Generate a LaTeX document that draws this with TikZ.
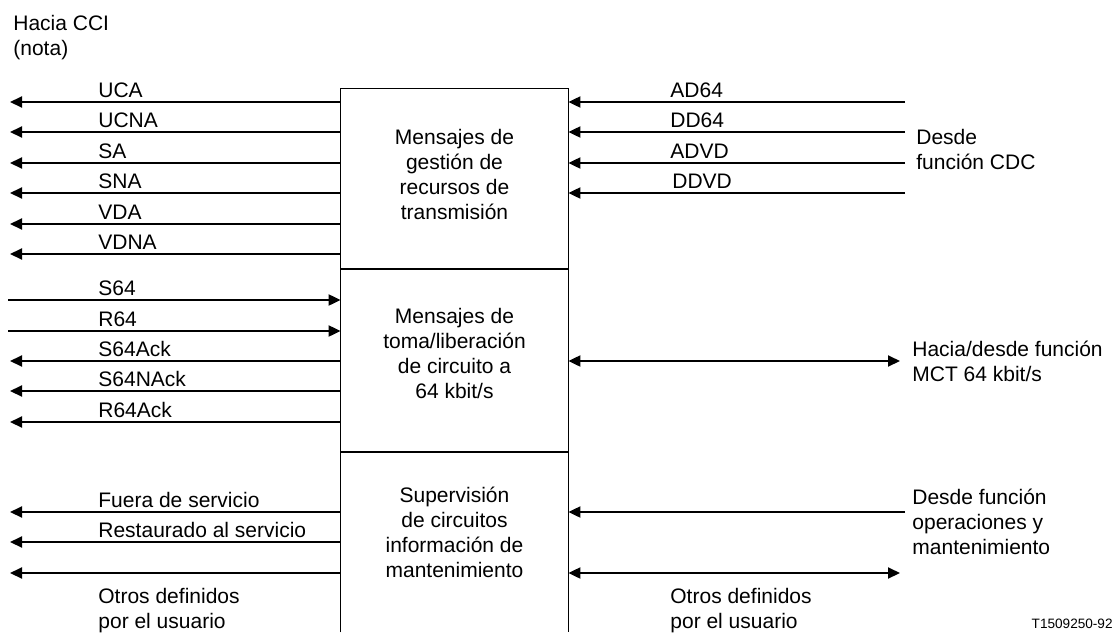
\documentclass[tikz,border=0pt]{standalone}
\usepackage{fontspec}
\setmainfont{Liberation Sans}
\usetikzlibrary{arrows.meta}
\begin{document}
\begin{tikzpicture}[x=0.5pt, y=-0.5pt,
  font=\fontsize{10.5}{12.5}\selectfont,
  sig/.style={line width=1pt, -{Triangle[length=6pt, width=5.5pt]}},
  sigboth/.style={line width=1pt, {Triangle[length=6pt, width=5.5pt]}-{Triangle[length=6pt, width=5.5pt]}},
  lbl/.style={anchor=base west, inner sep=0pt},
  txt/.style={align=left, inner sep=0pt},
  sect/.style={minimum width=113.5pt, inner sep=0pt},
  secttxt/.style={align=center, inner sep=0pt}]
\useasboundingbox (0,0) rectangle (1114,632);
\node[txt, anchor=north west] (cci) at (13,15) {Hacia CCI\\(nota)};
\node[sect, minimum height=90pt] (gest) at (454.5,179) {};
\node[sect, minimum height=91.5pt] (toma) at (454.5,360.5) {};
\node[sect, minimum height=90pt] (sup) at (454.5,542) {};
\node[secttxt] (tgest) at (454.5,174.5) {Mensajes de\\gestión de\\recursos de\\transmisión};
\node[secttxt] (ttoma) at (454.5,353) {Mensajes de\\toma/liberación\\de circuito a\\64 kbit/s};
\node[secttxt] (tsup) at (454.5,532) {Supervisión\\de circuitos\\información de\\mantenimiento};
\draw[line width=0.5pt] (sup.south west) -- (gest.north west) -- (gest.north east) -- (sup.south east);
\draw[line width=1pt] (gest.south west) -- (gest.south east);
\draw[line width=1pt] (toma.south west) -- (toma.south east);
\coordinate (uca) at (10,102);
\coordinate (ucna) at (10,132);
\coordinate (sa) at (10,163);
\coordinate (sna) at (10,193);
\coordinate (vda) at (10,224);
\coordinate (vdna) at (10,254);
\draw[sig] (gest.west |- uca) -- (uca);
\draw[sig] (gest.west |- ucna) -- (ucna);
\draw[sig] (gest.west |- sa) -- (sa);
\draw[sig] (gest.west |- sna) -- (sna);
\draw[sig] (gest.west |- vda) -- (vda);
\draw[sig] (gest.west |- vdna) -- (vdna);
\node[lbl] (tuca) at (98,97) {UCA};
\node[lbl] (tucna) at (98,127) {UCNA};
\node[lbl] (tsa) at (98,158) {SA};
\node[lbl] (tsna) at (98,188) {SNA};
\node[lbl] (tvda) at (98,219) {VDA};
\node[lbl] (tvdna) at (98,249) {VDNA};
\coordinate (s64) at (8,300);
\coordinate (r64) at (8,331);
\coordinate (s64ack) at (10,361);
\coordinate (s64nack) at (10,391);
\coordinate (r64ack) at (10,422);
\draw[sig] (s64) -- (toma.west |- s64);
\draw[sig] (r64) -- (toma.west |- r64);
\draw[sig] (toma.west |- s64ack) -- (s64ack);
\draw[sig] (toma.west |- s64nack) -- (s64nack);
\draw[sig] (toma.west |- r64ack) -- (r64ack);
\node[lbl] (ts64) at (98,295) {S64};
\node[lbl] (tr64) at (98,326) {R64};
\node[lbl] (ts64ack) at (98,356) {S64Ack};
\node[lbl] (ts64nack) at (98,386) {S64NAck};
\node[lbl] (tr64ack) at (98,417) {R64Ack};
\coordinate (fuera) at (10,512);
\coordinate (rest) at (10,542);
\coordinate (otrosl) at (10,573);
\draw[sig] (sup.west |- fuera) -- (fuera);
\draw[sig] (sup.west |- rest) -- (rest);
\draw[sig] (sup.west |- otrosl) -- (otrosl);
\node[lbl] (tfuera) at (98,507) {Fuera de servicio};
\node[lbl] (trest) at (98,537) {Restaurado al servicio};
\node[txt, anchor=north west] (totrosl) at (98,588) {Otros definidos\\por el usuario};
\coordinate (ad64) at (905,102);
\coordinate (dd64) at (905,132);
\coordinate (advd) at (905,163);
\coordinate (ddvd) at (905,193);
\draw[sig] (ad64) -- (gest.east |- ad64);
\draw[sig] (dd64) -- (gest.east |- dd64);
\draw[sig] (advd) -- (gest.east |- advd);
\draw[sig] (ddvd) -- (gest.east |- ddvd);
\node[lbl] (tad64) at (670,97) {AD64};
\node[lbl] (tdd64) at (670,127) {DD64};
\node[lbl] (tadvd) at (670,158) {ADVD};
\node[lbl] (tddvd) at (672,188) {DDVD};
\node[txt, anchor=west] (tcdc) at (916,149) {Desde\\función CDC};
\coordinate (mct) at (900,361);
\draw[sigboth] (toma.east |- mct) -- (mct);
\node[txt, anchor=west] (tmct) at (912,361) {Hacia/desde función\\MCT 64 kbit/s};
\coordinate (om) at (905,512);
\draw[sig] (om) -- (sup.east |- om);
\node[txt, anchor=west] (tom) at (912,522) {Desde función\\operaciones y\\mantenimiento};
\coordinate (otrosr) at (900,573);
\draw[sigboth] (sup.east |- otrosr) -- (otrosr);
\node[txt, anchor=north west] (totrosr) at (670,588) {Otros definidos\\por el usuario};
\node[anchor=base east, inner sep=0pt, font=\fontsize{6.8}{8}\selectfont] (ref) at (1113,628) {T1509250-92};
\end{tikzpicture}
\end{document}
